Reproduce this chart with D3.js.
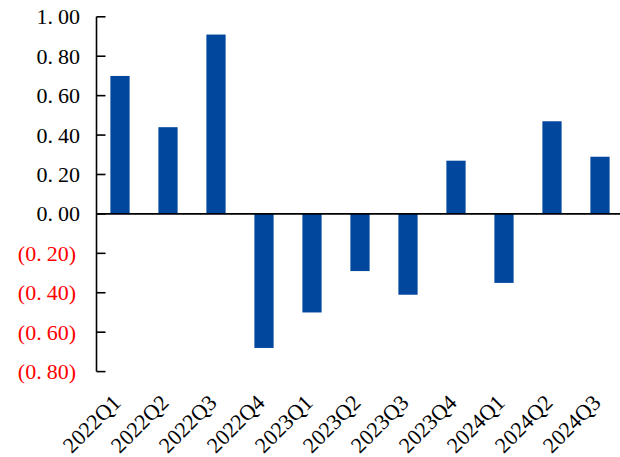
<!DOCTYPE html>
<html>
<head>
<meta charset="utf-8">
<script src="https://cdn.jsdelivr.net/npm/d3@7/dist/d3.min.js"></script>
<style>
  html, body { margin: 0; padding: 0; background: #fff; }
  svg { display: block; }
  text { font-family: "Liberation Serif", "DejaVu Serif", serif; }
</style>
</head>
<body>
<svg id="chart" width="620" height="457"></svg>
<script>
// Quarterly values
const quarters = ["2022Q1", "2022Q2", "2022Q3", "2022Q4", "2023Q1", "2023Q2",
                  "2023Q3", "2023Q4", "2024Q1", "2024Q2", "2024Q3"];
const values = [0.70, 0.44, 0.91, -0.68, -0.50, -0.29, -0.41, 0.27, -0.35, 0.47, 0.29];
const yTicks = [1.0, 0.8, 0.6, 0.4, 0.2, 0.0, -0.2, -0.4, -0.6, -0.8];

const svg = d3.select("#chart");
const axisX = 96.5;

const x = d3.scaleBand()
  .domain(quarters)
  .range([96, 624])
  .paddingInner(0.6)
  .paddingOuter(0.3);

const y = d3.scaleLinear()
  .domain([-0.8, 1.0])
  .range([371.6, 16.8]);

// Bars
svg.append("g")
  .selectAll("rect")
  .data(values)
  .join("rect")
  .attr("x", (d, i) => x(quarters[i]))
  .attr("width", x.bandwidth())
  .attr("y", d => y(Math.max(0, d)))
  .attr("height", d => Math.abs(y(d) - y(0)))
  .attr("fill", "#00479D");

// Zero line across the plot
svg.append("line")
  .attr("x1", axisX).attr("x2", 620)
  .attr("y1", y(0)).attr("y2", y(0))
  .attr("stroke", "#000").attr("stroke-width", 1.6);

// Vertical axis with inward ticks
const yAxis = svg.append("g");
yAxis.append("line")
  .attr("x1", axisX).attr("x2", axisX)
  .attr("y1", y(1.0)).attr("y2", y(-0.8))
  .attr("stroke", "#000").attr("stroke-width", 1.6);
yAxis.selectAll("line.tick")
  .data(yTicks)
  .join("line")
  .attr("class", "tick")
  .attr("x1", axisX).attr("x2", axisX + 9)
  .attr("y1", d => y(d)).attr("y2", d => y(d))
  .attr("stroke", "#000").attr("stroke-width", 1.6);

// Tick labels: accounting style, negatives in red parentheses,
// with a wide gap after the decimal point
const labels = yAxis.selectAll("text")
  .data(yTicks)
  .join("text")
  .attr("x", d => d < 0 ? 76 : 80)
  .attr("y", d => y(d) + 7.5)
  .attr("text-anchor", "end")
  .attr("font-size", 22)
  .attr("fill", d => d < 0 ? "#FF0000" : "#000");
labels.each(function (d) {
  const s = Math.abs(d).toFixed(2).split(".");
  const t = d3.select(this);
  t.append("tspan").text((d < 0 ? "(" : "") + s[0] + ".");
  t.append("tspan").attr("dx", 5).text(s[1] + (d < 0 ? ")" : ""));
});

// Category labels, rotated
svg.append("g")
  .selectAll("text")
  .data(quarters)
  .join("text")
  .attr("transform", d => `translate(${x(d) + x.bandwidth() / 2 + 2},${404}) rotate(-45)`)
  .attr("text-anchor", "end")
  .attr("font-size", 22)
  .attr("fill", "#000")
  .text(d => d);
</script>
</body>
</html>
